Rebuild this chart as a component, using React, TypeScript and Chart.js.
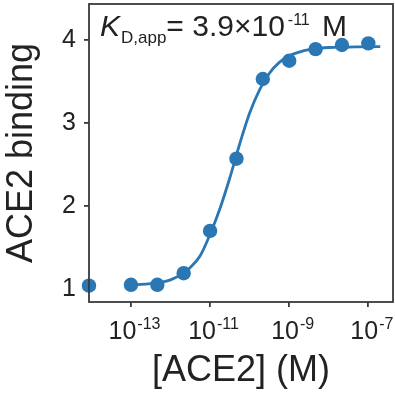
import React, { useEffect, useRef } from 'react';
import { Chart, registerables } from 'chart.js';

Chart.register(...registerables);

const concentrations = [8.7e-15, 1e-13, 4.64e-13, 2.15e-12, 1e-11, 4.64e-11, 2.15e-10, 1e-9, 4.64e-9, 2.15e-8, 1e-7];
const binding = [1.04, 1.05, 1.05, 1.19, 1.7, 2.57, 3.53, 3.75, 3.89, 3.94, 3.96];

// Fitted curve
const fitConcentrations = [
  1e-13, 1.78e-13, 3.16e-13, 5.62e-13, 1e-12, 1.78e-12, 3.16e-12, 5.62e-12, 1e-11, 1.78e-11, 3.16e-11, 5.62e-11,
  1e-10, 1.78e-10, 3.16e-10, 5.62e-10, 1e-9, 1.78e-9, 3.16e-9, 5.62e-9, 1e-8, 3.16e-8, 1e-7, 2e-7,
];
const fitBinding = [
  1.05, 1.055, 1.065, 1.08, 1.11, 1.17, 1.26, 1.4, 1.66, 1.97, 2.34, 2.75,
  3.12, 3.4, 3.6, 3.73, 3.81, 3.855, 3.885, 3.9, 3.91, 3.915, 3.92, 3.92,
];

const xTickExponents = [-13, -11, -9, -7];
const yTickValues = [1, 2, 3, 4];
const xTitle = '[ACE2] (M)';
const yTitle = 'ACE2 binding';
const kdMantissa = '3.9';
const kdExponent = '-11';

const BLUE = '#2a77b4';
const AXIS = '#3a3a3a';
const TEXT = '#222222';
const FONT = '"Liberation Sans", Arial, Helvetica, sans-serif';

export default function App() {
  const ref = useRef<HTMLCanvasElement | null>(null);

  useEffect(() => {
    document.body.style.margin = '0';
    const canvas = ref.current;
    if (!canvas) return;

    const decorations = {
      id: 'decorations',
      afterDraw(chart: any) {
        const ctx = chart.ctx as CanvasRenderingContext2D;
        const area = chart.chartArea;
        const xs = chart.scales.x;
        ctx.save();
        // box
        ctx.strokeStyle = AXIS;
        ctx.lineWidth = 1.8;
        ctx.strokeRect(area.left, area.top, area.right - area.left, area.bottom - area.top);

        ctx.fillStyle = TEXT;
        ctx.textBaseline = 'alphabetic';
        // x tick labels with superscripts
        for (const e of xTickExponents) {
          const px = xs.getPixelForValue(Math.pow(10, e));
          ctx.font = `25px ${FONT}`;
          const base = '10';
          const wb = ctx.measureText(base).width;
          ctx.font = `16px ${FONT}`;
          const sup = String(e);
          const ws = ctx.measureText(sup).width;
          const start = px - (wb + ws) / 2 + 3;
          ctx.font = `25px ${FONT}`;
          ctx.textAlign = 'left';
          ctx.fillText(base, start, 339);
          ctx.font = `16px ${FONT}`;
          ctx.fillText(sup, start + wb + 1, 329);
        }

        // axis titles
        ctx.font = `36px ${FONT}`;
        ctx.textAlign = 'center';
        ctx.fillText(xTitle, (area.left + area.right) / 2, 381);
        ctx.save();
        ctx.translate(32, (area.top + area.bottom) / 2);
        ctx.rotate(-Math.PI / 2);
        ctx.fillText(yTitle, 0, 0);
        ctx.restore();

        // annotation
        ctx.textAlign = 'left';
        let x = 100;
        ctx.font = `italic 30px ${FONT}`;
        ctx.fillText('K', x, 36);
        x += ctx.measureText('K').width + 1;
        ctx.font = `17px ${FONT}`;
        ctx.fillText('D,app', x, 43);
        x += ctx.measureText('D,app').width;
        ctx.font = `30px ${FONT}`;
        const main = `= ${kdMantissa}\u00d710`;
        ctx.fillText(main, x, 36);
        x += ctx.measureText(main).width + 3;
        ctx.font = `16px ${FONT}`;
        ctx.fillText(kdExponent, x, 25);
        x += ctx.measureText(kdExponent).width + 4;
        ctx.font = `30px ${FONT}`;
        ctx.fillText(' M', x, 36);
        ctx.restore();
      },
    };

    const noPad = (s: any) => {
      s.paddingTop = 0;
      s.paddingBottom = 0;
      s.paddingLeft = 0;
      s.paddingRight = 0;
    };

    const chart = new Chart(canvas, {
      type: 'scatter',
      data: {
        datasets: [
          {
            label: 'data',
            data: concentrations.map((c, i) => ({ x: c, y: binding[i] })),
            backgroundColor: BLUE,
            borderColor: BLUE,
            pointRadius: 7.2,
            pointBorderWidth: 0,
            showLine: false,
            clip: false,
          },
          {
            label: 'fit',
            data: fitConcentrations.map((c, i) => ({ x: c, y: fitBinding[i] })),
            borderColor: BLUE,
            backgroundColor: BLUE,
            borderWidth: 2.8,
            pointRadius: 0,
            showLine: true,
            cubicInterpolationMode: 'monotone',
          },
        ],
      },
      options: {
        animation: false,
        responsive: false,
        events: [],
        layout: { autoPadding: false, padding: { top: 4, right: 2, left: 0, bottom: 0 } },
        plugins: { legend: { display: false }, tooltip: { enabled: false } },
        scales: {
          x: {
            type: 'logarithmic',
            min: 8.7e-15,
            max: 4.2e-7,
            afterBuildTicks: (s: any) => {
              s.ticks = xTickExponents.map((e) => ({ value: Math.pow(10, e) }));
            },
            afterFit: (s: any) => {
              s.height = 100;
              noPad(s);
            },
            ticks: { display: false },
            border: { display: false },
            grid: {
              display: true,
              drawOnChartArea: false,
              drawTicks: true,
              tickLength: 5,
              color: AXIS,
              lineWidth: 1.8,
            },
          },
          y: {
            type: 'linear',
            min: 0.843,
            max: 4.434,
            afterBuildTicks: (s: any) => {
              s.ticks = yTickValues.map((v) => ({ value: v }));
            },
            afterFit: (s: any) => {
              s.width = 89;
              noPad(s);
            },
            ticks: {
              color: TEXT,
              font: { family: FONT, size: 25 },
              padding: 8,
              callback: (v: any) => String(v),
            },
            border: { display: false },
            grid: {
              display: true,
              drawOnChartArea: false,
              drawTicks: true,
              tickLength: 5,
              color: AXIS,
              lineWidth: 1.8,
            },
          },
        },
      },
      plugins: [decorations],
    } as any);

    return () => chart.destroy();
  }, []);

  return <canvas ref={ref} width={395} height={402} style={{ display: 'block' }} />;
}
